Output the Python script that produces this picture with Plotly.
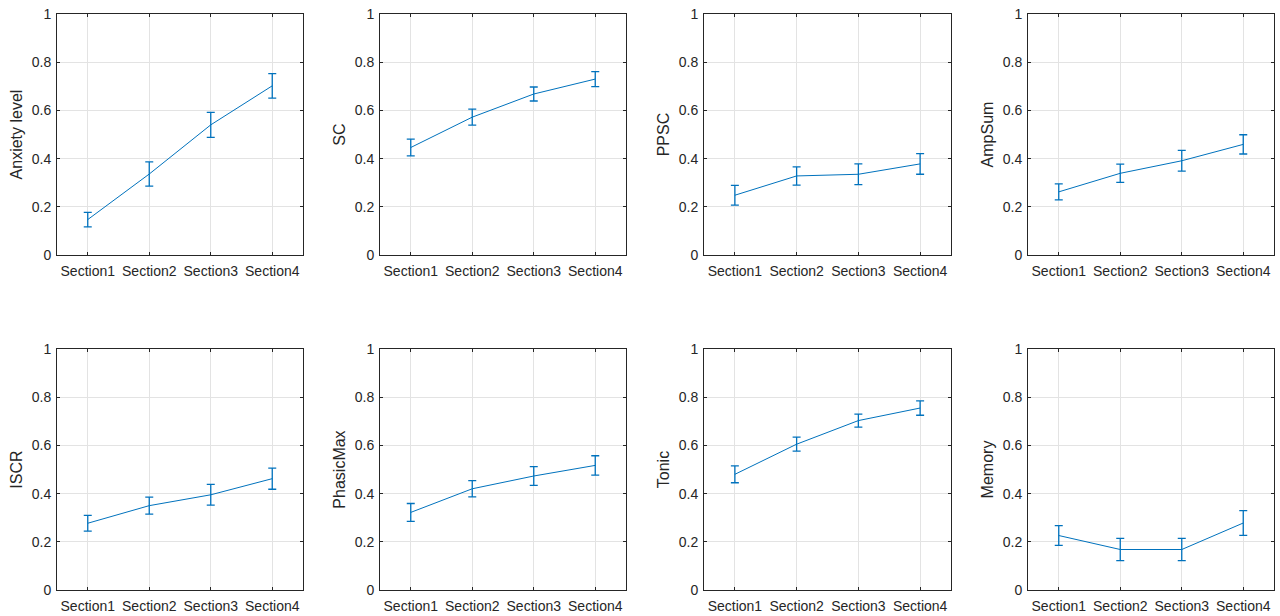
import plotly.graph_objects as go

categories = ["Section1", "Section2", "Section3", "Section4"]
x_pos = [1, 2, 3, 4]

titles = ["Anxiety level", "SC", "PPSC", "AmpSum", "ISCR", "PhasicMax", "Tonic", "Memory"]

anxiety = [0.147, 0.336, 0.540, 0.702]
anxiety_err = [0.030, 0.050, 0.052, 0.051]
sc = [0.446, 0.572, 0.668, 0.730]
sc_err = [0.035, 0.033, 0.029, 0.031]
ppsc = [0.248, 0.328, 0.335, 0.378]
ppsc_err = [0.041, 0.038, 0.043, 0.043]
ampsum = [0.262, 0.339, 0.391, 0.459]
ampsum_err = [0.033, 0.038, 0.043, 0.040]
iscr = [0.277, 0.350, 0.395, 0.462]
iscr_err = [0.033, 0.035, 0.043, 0.044]
phasicmax = [0.322, 0.420, 0.473, 0.517]
phasicmax_err = [0.037, 0.034, 0.039, 0.040]
tonic = [0.480, 0.605, 0.703, 0.755]
tonic_err = [0.035, 0.029, 0.027, 0.030]
memory = [0.226, 0.168, 0.168, 0.278]
memory_err = [0.041, 0.046, 0.046, 0.051]

series = [anxiety, sc, ppsc, ampsum, iscr, phasicmax, tonic, memory]
errors = [anxiety_err, sc_err, ppsc_err, ampsum_err, iscr_err, phasicmax_err, tonic_err, memory_err]

W, H = 1280, 616
x_px = [(57, 303), (380, 626), (704, 951), (1028, 1274)]
y_px = [(14, 255), (349, 590)]

LINE = "#0072BD"
AX = "#262626"
GRID = "#e3e3e3"
FONT = "Liberation Sans, Arial, sans-serif"

fig = go.Figure()
layout = {}
for i in range(8):
    r, c = divmod(i, 4)
    n = "" if i == 0 else str(i + 1)
    fig.add_trace(go.Scatter(
        x=x_pos, y=series[i],
        mode="lines",
        line=dict(color=LINE, width=1),
        error_y=dict(type="data", array=errors[i], visible=True,
                     color=LINE, thickness=1.3, width=4),
        xaxis="x" + n, yaxis="y" + n, showlegend=False,
    ))
    x0, x1 = x_px[c]
    y0, y1 = y_px[r]
    layout["xaxis" + n] = dict(
        domain=[x0 / W, x1 / W], anchor="y" + n,
        range=[0.5, 4.5], tickvals=x_pos, ticktext=categories,
        showgrid=True, gridcolor=GRID, gridwidth=1,
        showline=True, linecolor=AX, linewidth=1, mirror="ticks",
        ticks="inside", ticklen=3, tickcolor=AX, zeroline=False,
        tickfont=dict(family=FONT, size=14, color=AX), automargin=False,
        ticklabelstandoff=3,
    )
    layout["yaxis" + n] = dict(
        domain=[1 - y1 / H, 1 - y0 / H], anchor="x" + n,
        range=[0, 1], tickvals=[0, 0.2, 0.4, 0.6, 0.8, 1],
        ticktext=["0", "0.2", "0.4", "0.6", "0.8", "1"],
        showgrid=True, gridcolor=GRID, gridwidth=1,
        showline=True, linecolor=AX, linewidth=1, mirror="ticks",
        ticks="inside", ticklen=3, tickcolor=AX, zeroline=False,
        tickfont=dict(family=FONT, size=14, color=AX), automargin=False,
        ticklabelstandoff=2,
        title=dict(text=titles[i], font=dict(family=FONT, size=16, color=AX), standoff=5),
    )

fig.update_layout(
    width=W, height=H,
    margin=dict(l=0, r=0, t=0, b=0),
    paper_bgcolor="white", plot_bgcolor="white",
    **layout,
)
fig.write_html(
    "out.html",
    config={"displayModeBar": False},
    post_script="document.body.style.margin='0';document.body.style.overflow='hidden';",
)
